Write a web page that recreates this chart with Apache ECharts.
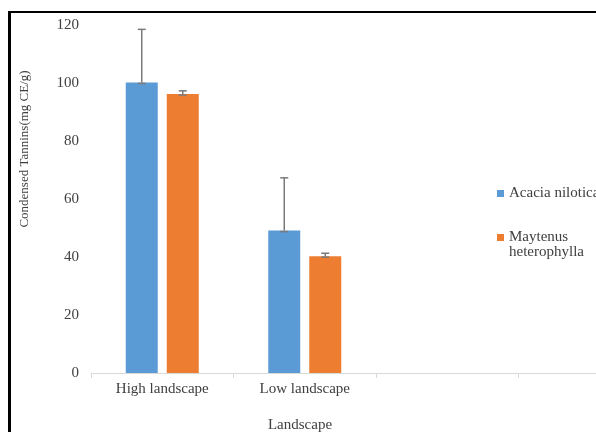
<!DOCTYPE html>
<html>
<head>
<meta charset="utf-8">
<script src="https://cdn.jsdelivr.net/npm/echarts@6/dist/echarts.min.js"></script>
<style>html,body{margin:0;padding:0;background:#fff}#c{width:596px;height:432px}</style>
</head>
<body>
<div id="c"></div>
<script>
var categories = ['High landscape', 'Low landscape', '', ''];
var seriesNames = ['Acacia nilotica', 'Maytenus\nheterophylla'];
var acaciaValues = [100.2, 49.1];
var acaciaErrors = [18.3, 18.2];
var maytenusValues = [96.2, 40.3];
var maytenusErrors = [1.1, 1.0];
var yTicks = [0, 20, 40, 60, 80, 100, 120];

var BAR_W = 32, GAP = 9;
var FONT = '"Liberation Serif", "Times New Roman", serif';
var TXT = '#404040';

function errData(vals, errs) {
  return vals.map(function (v, i) { return [i, v, errs[i]]; });
}
function errRender(sign) {
  return function (params, api) {
    var x = api.value(0), v = api.value(1), e = api.value(2);
    var base = api.coord([x, v]);
    var top = api.coord([x, v + e]);
    var cx = base[0] + sign * (BAR_W + GAP) / 2;
    var cap = 4;
    var st = { stroke: '#7a7a7a', lineWidth: 1.5 };
    return {
      type: 'group',
      children: [
        { type: 'line', shape: { x1: cx, y1: base[1], x2: cx, y2: top[1] }, style: st },
        { type: 'line', shape: { x1: cx - cap, y1: top[1], x2: cx + cap, y2: top[1] }, style: st },
        { type: 'line', shape: { x1: cx - cap, y1: base[1] + 1, x2: cx + cap, y2: base[1] + 1 }, style: st }
      ]
    };
  };
}

var chart = echarts.init(document.getElementById('c'), null, { renderer: 'canvas' });
chart.setOption({
  animation: false,
  textStyle: { fontFamily: FONT },
  title: {
    text: 'Landscape', left: 295, top: 413, textAlign: 'center',
    textStyle: { fontFamily: FONT, fontSize: 15, fontWeight: 'normal', color: TXT }
  },
  grid: { left: 91, width: 570, top: 25, bottom: 59, containLabel: false, outerBoundsMode: 'none' },
  legend: {
    orient: 'vertical', left: 492, top: 181, itemWidth: 7, itemHeight: 7, itemGap: 14,
    icon: 'rect',
    textStyle: { fontFamily: FONT, fontSize: 15, color: TXT, lineHeight: 15 },
    formatter: function (name) { return name === seriesNames[1] ? '\n' + name : name; },
    data: seriesNames
  },
  xAxis: {
    type: 'category', data: categories,
    axisLine: { lineStyle: { color: '#d9d9d9', width: 1 } },
    axisTick: { show: true, length: 5, lineStyle: { color: '#d9d9d9' } },
    axisLabel: { fontFamily: FONT, fontSize: 15, color: TXT, margin: 9 }
  },
  yAxis: {
    type: 'value', min: 0, max: 120, interval: 20,
    axisLine: { show: false }, axisTick: { show: false }, splitLine: { show: false },
    axisLabel: { fontFamily: FONT, fontSize: 15, color: TXT, margin: 12,
      formatter: function (v) { return yTicks.indexOf(v) >= 0 ? String(v) : ''; } }
  },
  graphic: [
    { type: 'line', shape: { x1: 9.5, y1: 12, x2: 596, y2: 12 }, style: { stroke: '#000', lineWidth: 2 } },
    { type: 'line', shape: { x1: 9.5, y1: 11, x2: 9.5, y2: 432 }, style: { stroke: '#000', lineWidth: 3 } },
    { type: 'text', x: 25, y: 149, rotation: Math.PI / 2,
      style: { text: 'Condensed Tannins(mg CE/g)', fontFamily: FONT, fontSize: 13, fill: TXT,
        textAlign: 'center', textVerticalAlign: 'middle' } }
  ],
  series: [
    { name: seriesNames[0], type: 'bar', data: acaciaValues, barWidth: BAR_W, barGap: (GAP / BAR_W * 100) + '%',
      itemStyle: { color: '#5b9bd5' } },
    { name: seriesNames[1], type: 'bar', data: maytenusValues, barWidth: BAR_W,
      itemStyle: { color: '#ed7d31' } },
    { type: 'custom', data: errData(acaciaValues, acaciaErrors), renderItem: errRender(-1), z: 5 },
    { type: 'custom', data: errData(maytenusValues, maytenusErrors), renderItem: errRender(1), z: 5 }
  ]
});
</script>
</body>
</html>
